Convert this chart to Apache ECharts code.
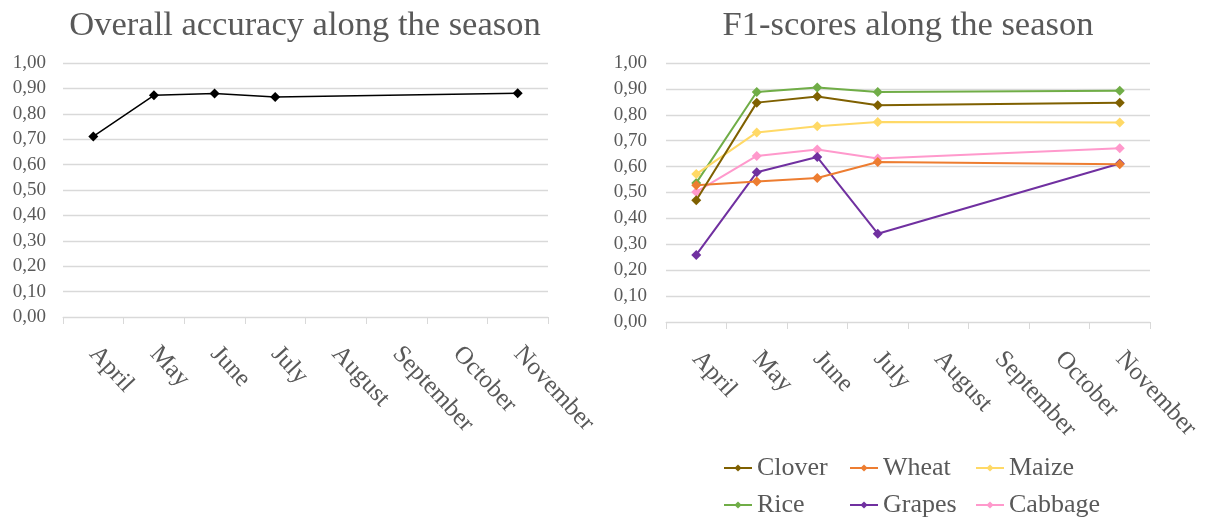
<!DOCTYPE html>
<html>
<head>
<meta charset="utf-8">
<script src="https://cdn.jsdelivr.net/npm/echarts@6/dist/echarts.min.js"></script>
<style>
  html, body { margin: 0; padding: 0; background: #ffffff; }
  #chart { width: 1211px; height: 519px; }
</style>
</head>
<body>
<div id="chart"></div>
<script>
// Months of the growing season (Aug–Oct have no measurement)
const months = ['April', 'May', 'June', 'July', 'August', 'September', 'October', 'November'];

// Overall accuracy per month
const overallAccuracy = [0.711, 0.873, 0.880, 0.866, null, null, null, 0.881];

// F1-scores per crop per month
const clover  = [0.470, 0.847, 0.871, 0.837, null, null, null, 0.847];
const wheat   = [0.528, 0.542, 0.556, 0.618, null, null, null, 0.609];
const maize   = [0.571, 0.732, 0.756, 0.772, null, null, null, 0.770];
const rice    = [0.537, 0.888, 0.905, 0.888, null, null, null, 0.893];
const grapes  = [0.259, 0.578, 0.637, 0.341, null, null, null, 0.612];
const cabbage = [0.502, 0.641, 0.666, 0.631, null, null, null, 0.671];

const cropNames  = ['Clover', 'Wheat', 'Maize', 'Rice', 'Grapes', 'Cabbage'];
const cropData   = [clover, wheat, maize, rice, grapes, cabbage];
const cropColors = ['#7F6000', '#ED7D31', '#FFD966', '#70AD47', '#7030A0', '#FF99CC'];

const FONT = '"Liberation Serif", "Times New Roman", serif';
const TEXT = '#595959';
const GRID_LINE = '#D9D9D9';

function makeXAxis(gridIndex) {
  return {
    type: 'category',
    gridIndex,
    data: months,
    boundaryGap: true,
    axisLine: { show: true, lineStyle: { color: GRID_LINE, width: 1 } },
    axisTick: { show: true, length: 7, alignWithLabel: false, lineStyle: { color: GRID_LINE } },
    axisLabel: {
      interval: 0,
      rotate: -47,
      margin: 33,
      color: TEXT,
      fontFamily: FONT,
      fontSize: 25
    },
    splitLine: { show: false }
  };
}

function makeYAxis(gridIndex, margin) {
  return {
    type: 'value',
    gridIndex,
    min: 0,
    max: 1,
    interval: 0.1,
    axisLine: { show: false },
    axisTick: { show: false },
    axisLabel: {
      margin,
      color: TEXT,
      fontFamily: FONT,
      fontSize: 19,
      formatter: v => v.toFixed(2).replace('.', ',')
    },
    splitLine: { show: true, lineStyle: { color: GRID_LINE, width: 1.3 } }
  };
}

const cropSeries = cropNames.map((name, i) => ({
  name,
  type: 'line',
  xAxisIndex: 1,
  yAxisIndex: 1,
  data: cropData[i],
  connectNulls: true,
  symbol: 'diamond',
  symbolSize: 10,
  color: cropColors[i],
  lineStyle: { width: 2, color: cropColors[i] },
  itemStyle: { color: cropColors[i] },
  emphasis: { disabled: true },
  z: 10 - i
}));

const legendBase = {
  orient: 'horizontal',
  left: 723,
  padding: 0,
  itemWidth: 28,
  itemHeight: 9,
  itemGap: 10,
  textStyle: { color: TEXT, fontFamily: FONT, fontSize: 26, width: 82, lineHeight: 28 }
};

const option = {
  backgroundColor: '#ffffff',
  animation: false,
  title: [
    {
      text: 'Overall accuracy along the season',
      left: 300, top: 3, textAlign: 'center',
      textStyle: { color: TEXT, fontFamily: FONT, fontSize: 34.5, fontWeight: 'normal' }
    },
    {
      text: 'F1-scores along the season',
      left: 903, top: 3, textAlign: 'center',
      textStyle: { color: TEXT, fontFamily: FONT, fontSize: 34.5, fontWeight: 'normal' }
    }
  ],
  legend: [
    Object.assign({}, legendBase, { top: 454, data: cropNames.slice(0, 3) }),
    Object.assign({}, legendBase, { top: 491, data: cropNames.slice(3, 6) })
  ],
  grid: [
    { left: 63, right: 663, top: 63, bottom: 202 },
    { left: 666, right: 61, top: 63, bottom: 197 }
  ],
  xAxis: [makeXAxis(0), makeXAxis(1)],
  yAxis: [makeYAxis(0, 17), makeYAxis(1, 19)],
  series: [
    {
      name: 'Overall accuracy',
      type: 'line',
      xAxisIndex: 0,
      yAxisIndex: 0,
      data: overallAccuracy,
      connectNulls: true,
      symbol: 'diamond',
      symbolSize: 10,
      color: '#000000',
      lineStyle: { width: 1.5, color: '#000000' },
      itemStyle: { color: '#000000' },
      emphasis: { disabled: true }
    }
  ].concat(cropSeries)
};

const chart = echarts.init(document.getElementById('chart'), null, { renderer: 'canvas' });
chart.setOption(option);
</script>
</body>
</html>
